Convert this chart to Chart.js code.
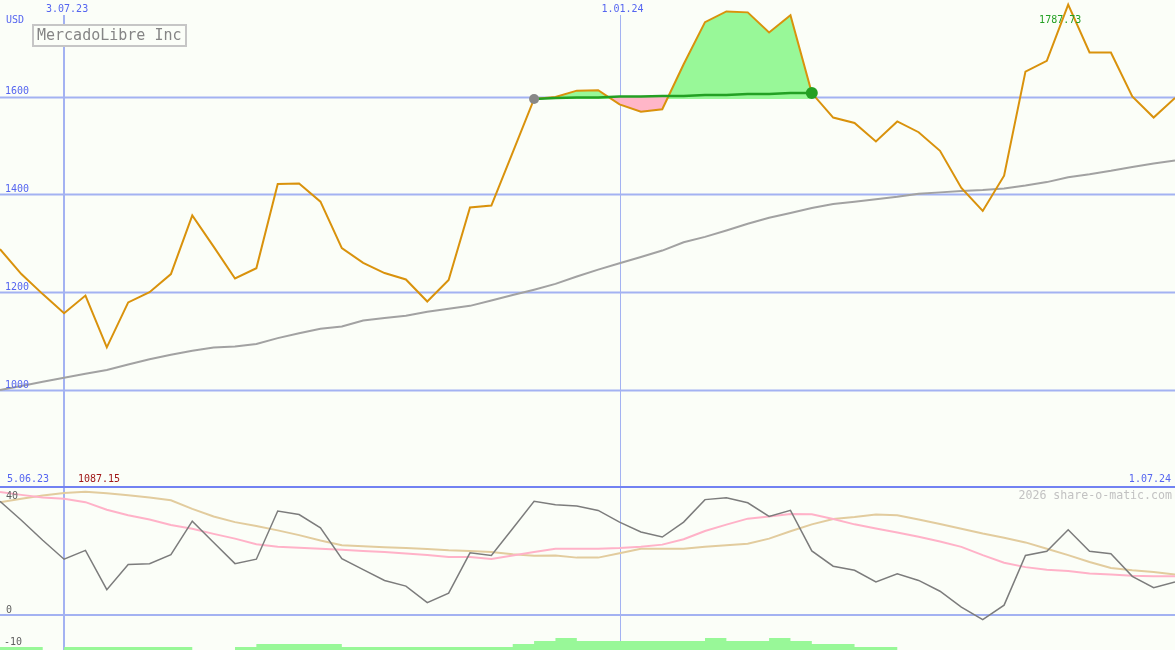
<!DOCTYPE html>
<html>
<head>
<meta charset="utf-8">
<script src="https://cdn.jsdelivr.net/npm/chart.js@4.4.1/dist/chart.umd.min.js"></script>
<style>
  html, body { margin: 0; padding: 0; background: #fbfef8; }
  #wrap { position: relative; width: 1175px; height: 650px; overflow: hidden; }
  canvas { position: absolute; left: 0; }
  #price { top: 0; }
  #osc { top: 486px; }
</style>
</head>
<body>
<div id="wrap">
  <canvas id="price" width="1175" height="486"></canvas>
  <canvas id="osc" width="1175" height="164"></canvas>
</div>
<script>
const weeks = ['12.06.23', '19.06.23', '26.06.23', '3.07.23', '10.07.23', '17.07.23', '24.07.23', '31.07.23',
    '7.08.23', '14.08.23', '21.08.23', '28.08.23', '4.09.23', '11.09.23', '18.09.23', '25.09.23',
    '2.10.23', '9.10.23', '16.10.23', '23.10.23', '30.10.23', '6.11.23', '13.11.23', '20.11.23', '27.11.23',
    '4.12.23', '11.12.23', '18.12.23', '25.12.23', '1.01.24', '8.01.24', '15.01.24', '22.01.24', '29.01.24',
    '5.02.24', '12.02.24', '19.02.24', '26.02.24', '4.03.24', '11.03.24', '18.03.24', '25.03.24',
    '1.04.24', '8.04.24', '15.04.24', '22.04.24', '29.04.24', '6.05.24', '13.05.24', '20.05.24', '27.05.24',
    '3.06.24', '10.06.24', '17.06.24', '24.06.24', '1.07.24'];

const closePrice = [1288, 1237, 1196, 1157, 1193, 1087.15, 1179, 1200, 1237, 1357,
    1293, 1228, 1249, 1421, 1422, 1385, 1290, 1260, 1239, 1226,
    1181, 1225, 1373, 1377, 1486, 1595, 1599, 1612, 1613, 1584,
    1569, 1574, 1666, 1752, 1774, 1772, 1731, 1766, 1607, 1557,
    1546, 1508, 1549, 1527, 1489, 1413, 1366, 1438, 1651, 1673,
    1787.73, 1690, 1690, 1600, 1557, 1597];

const longAverage = [1000, 1008, 1017, 1025, 1033, 1041, 1052, 1063, 1072, 1080,
    1087, 1089, 1094, 1106, 1116, 1125, 1130, 1142, 1147, 1152,
    1160, 1166, 1172, 1183, 1194, 1205, 1217, 1232, 1246, 1259,
    1272, 1285, 1302, 1313, 1326, 1340, 1352, 1362, 1372, 1380,
    1385, 1390, 1395, 1401, 1404, 1407, 1409, 1412, 1418, 1425,
    1435, 1441, 1448, 1456, 1463, 1469];

const trailLine = [null, null, null, null, null, null, null, null, null, null,
    null, null, null, null, null, null, null, null, null, null,
    null, null, null, null, null, 1595, 1597, 1598, 1598, 1600,
    1600, 1601, 1601, 1603, 1603, 1605, 1605, 1607, 1607, null,
    null, null, null, null, null, null, null, null, null, null,
    null, null, null, null, null, null];
const trailBase = 1595;

const oscillator = [36.0, 30.0, 23.7, 17.7, 20.5, 8.1, 16.0, 16.3, 19.1, 29.7,
    23.0, 16.3, 17.7, 32.9, 31.8, 27.6, 17.9, 14.4, 11.0, 9.2,
    4.0, 7.0, 19.7, 18.9, 27.4, 36.0, 34.9, 34.5, 33.1, 29.4,
    26.3, 24.7, 29.4, 36.5, 37.1, 35.5, 31.2, 33.1, 20.3, 15.5,
    14.2, 10.5, 13.1, 11.0, 7.6, 2.6, -1.4, 3.2, 18.9, 20.2,
    27.0, 20.2, 19.4, 12.3, 8.7, 10.5];

const oscFast = [38.9, 38.0, 37.2, 36.8, 35.7, 33.3, 31.6, 30.2, 28.5, 27.3,
    25.7, 24.2, 22.4, 21.6, 21.3, 21.0, 20.7, 20.3, 20.0, 19.5,
    19.0, 18.4, 18.4, 17.8, 18.9, 20.0, 21.0, 21.0, 21.0, 21.2,
    21.6, 22.3, 24.0, 26.6, 28.6, 30.5, 31.2, 32.0, 31.9, 30.4,
    28.7, 27.4, 26.1, 24.8, 23.3, 21.6, 19.0, 16.6, 15.2, 14.4,
    14.0, 13.2, 12.9, 12.5, 12.3, 12.3];

const oscSlow = [35.7, 36.8, 37.8, 38.6, 39.0, 38.5, 37.9, 37.2, 36.3, 33.6,
    31.2, 29.4, 28.2, 26.8, 25.3, 23.6, 22.1, 21.8, 21.5, 21.2,
    20.9, 20.5, 20.3, 20.0, 19.3, 18.8, 18.9, 18.2, 18.2, 19.6,
    21.0, 21.0, 21.0, 21.6, 22.1, 22.6, 24.2, 26.5, 28.7, 30.4,
    31.0, 31.8, 31.6, 30.2, 28.8, 27.3, 25.8, 24.5, 23.0, 21.0,
    19.0, 16.8, 14.9, 14.2, 13.7, 12.9];

const histLevels = [1, 1, 0, 1, 1, 1, 1, 1, 1, 0,
    0, 1, 2, 2, 2, 2, 1, 1, 1, 1,
    1, 1, 1, 1, 2, 3, 4, 3, 3, 3,
    3, 3, 3, 4, 3, 3, 4, 3, 2, 2,
    1, 1, 0, 0, 0, 0, 0, 0, 0, 0,
    0, 0, 0, 0, 0, 0];

const priceTicks = [1000, 1200, 1400, 1600];
const oscTicks = [40, 0, -10];
const dateGrid = ['3.07.23', '1.01.24'];

const gridColor = '#a3b2f2';
const labelBlue = '#5565f0';
const mono = '"DejaVu Sans Mono", "Liberation Mono", monospace';

function hline(ctx, x1, x2, y) {
    ctx.beginPath();
    ctx.moveTo(x1, y);
    ctx.lineTo(x2, y);
    ctx.stroke();
}

function vline(ctx, x, y1, y2) {
    ctx.beginPath();
    ctx.moveTo(x, y1);
    ctx.lineTo(x, y2);
    ctx.stroke();
}

function text(ctx, str, x, y, color, font, align) {
    ctx.fillStyle = color;
    ctx.font = font;
    ctx.textAlign = align || 'left';
    ctx.textBaseline = 'middle';
    ctx.fillText(str, x, y);
}

const priceDecor = {
    id: 'priceDecor',
    beforeDatasetsDraw(chart) {
        const { ctx, scales: { x, y } } = chart;
        ctx.save();
        ctx.strokeStyle = gridColor;
        ctx.lineWidth = 2;
        priceTicks.forEach(v => hline(ctx, 0, chart.width, Math.round(y.getPixelForValue(v)) + 0.5));
        dateGrid.forEach((d, k) => {
            const px = x.getPixelForValue(weeks.indexOf(d));
            ctx.lineWidth = k === 0 ? 2 : 1;
            vline(ctx, Math.round(px) + (k === 0 ? 0 : 0.5), 15, chart.height);
        });
        ctx.restore();
    },
    afterDraw(chart) {
        const { ctx, scales: { x, y } } = chart;
        ctx.save();
        const small = '10px ' + mono;
        priceTicks.forEach(v => text(ctx, String(v), 5, y.getPixelForValue(v) - 5, labelBlue, small));
        dateGrid.forEach(d => text(ctx, d, x.getPixelForValue(weeks.indexOf(d)) + 3, 9, labelBlue, small, 'center'));
        text(ctx, 'USD', 6, 20, labelBlue, small);

        // title box
        ctx.strokeStyle = '#c6c6c6';
        ctx.lineWidth = 2;
        ctx.fillStyle = '#fbfef8';
        ctx.fillRect(33, 25, 153, 21);
        ctx.strokeRect(33, 25, 153, 21);
        text(ctx, 'MercadoLibre Inc', 37, 36, '#858585', '15px ' + mono);

        // high / low notes
        const hi = closePrice.indexOf(Math.max(...closePrice));
        text(ctx, Math.max(...closePrice).toFixed(2), x.getPixelForValue(hi) - 8, 20, '#23a023', small, 'center');
        text(ctx, weeks[0].replace('12.', '5.'), 7, 479, labelBlue, small);
        text(ctx, Math.min(...closePrice).toFixed(2), 78, 479, '#a01818', small);
        text(ctx, weeks[weeks.length - 1], 1171, 479, labelBlue, small, 'right');
        ctx.restore();
    }
};

const oscDecor = {
    id: 'oscDecor',
    beforeDatasetsDraw(chart) {
        const { ctx, scales: { x, y } } = chart;
        ctx.save();
        ctx.strokeStyle = gridColor;
        dateGrid.forEach((d, k) => {
            const px = x.getPixelForValue(weeks.indexOf(d));
            ctx.lineWidth = k === 0 ? 2 : 1;
            vline(ctx, Math.round(px) + (k === 0 ? 0 : 0.5), 0, chart.height);
        });
        ctx.lineWidth = 2;
        hline(ctx, 0, chart.width, Math.round(y.getPixelForValue(0)));
        ctx.strokeStyle = '#7282f2';
        hline(ctx, 0, chart.width, 1);
        ctx.restore();
    },
    afterDraw(chart) {
        const { ctx, scales: { y } } = chart;
        ctx.save();
        const small = '10px ' + mono;
        oscTicks.forEach(v => {
            const py = Math.max(10, y.getPixelForValue(v) - 5);
            text(ctx, String(v), v < 0 ? 4 : 6, py, '#606060', small);
        });
        text(ctx, '2026 share-o-matic.com', 1172, 10, '#c2c2c2', '11.6px ' + mono, 'right');
        ctx.restore();
    }
};

const baseOptions = {
    responsive: false,
    animation: false,
    devicePixelRatio: 1,
    layout: { padding: 0 },
    plugins: { legend: { display: false }, tooltip: { enabled: false } },
    elements: { point: { radius: 0 }, line: { tension: 0 } }
};

new Chart(document.getElementById('price').getContext('2d'), {
    type: 'line',
    data: {
        labels: weeks,
        datasets: [
            {
                label: 'band',
                data: trailLine,
                borderWidth: 0,
                borderColor: 'rgba(0,0,0,0)',
                fill: { value: trailBase },
                backgroundColor: '#98f898',
                order: 4
            },
            {
                label: 'average',
                data: longAverage,
                borderColor: '#a2a2a2',
                borderWidth: 2,
                fill: false,
                order: 3
            },
            {
                label: 'close',
                data: closePrice,
                borderColor: '#d9920c',
                borderWidth: 2,
                fill: { target: 3, above: '#98f898', below: '#ffb6c8' },
                order: 2
            },
            {
                label: 'trail',
                data: trailLine,
                borderColor: '#23a023',
                borderWidth: 2.5,
                fill: false,
                pointRadius: trailLine.map((v, i) => i === 25 ? 5 : (i === 38 ? 6 : 0)),
                pointBackgroundColor: trailLine.map((v, i) => i === 25 ? '#878787' : '#23a023'),
                pointBorderWidth: 0,
                order: 1
            }
        ]
    },
    options: Object.assign({}, baseOptions, {
        scales: {
            x: { type: 'category', display: false, offset: false },
            y: { display: false, min: 803.7, max: 1797.3 }
        }
    }),
    plugins: [priceDecor]
});

new Chart(document.getElementById('osc').getContext('2d'), {
    type: 'line',
    data: {
        labels: weeks,
        datasets: [
            {
                label: 'hist',
                data: histLevels,
                yAxisID: 'y2',
                stepped: true,
                borderWidth: 0,
                borderColor: 'rgba(0,0,0,0)',
                backgroundColor: '#98f898',
                fill: 'start',
                order: 4
            },
            {
                label: 'slow',
                data: oscSlow,
                borderColor: '#e2cc9e',
                borderWidth: 2,
                order: 3
            },
            {
                label: 'fast',
                data: oscFast,
                borderColor: '#ffb2c8',
                borderWidth: 2,
                order: 2
            },
            {
                label: 'osc',
                data: oscillator,
                borderColor: '#7c7c7c',
                borderWidth: 1.5,
                order: 1
            }
        ]
    },
    options: Object.assign({}, baseOptions, {
        scales: {
            x: { type: 'category', display: false, offset: false },
            y: { display: false, min: -10.95, max: 40.8 },
            y2: { display: false, min: 0, max: 164 / 3 }
        }
    }),
    plugins: [oscDecor]
});
</script>
</body>
</html>
